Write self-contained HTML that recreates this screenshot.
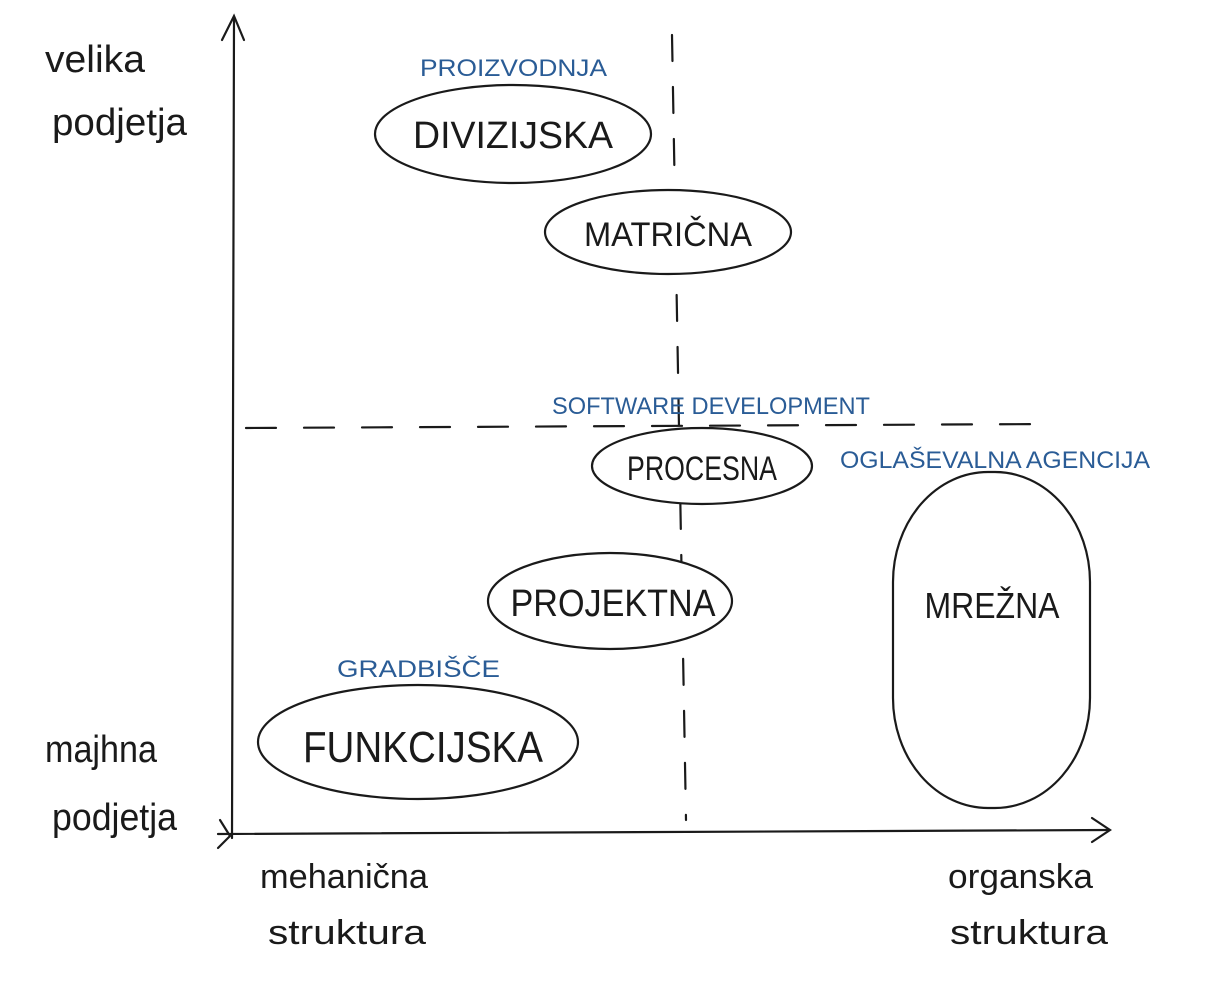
<!DOCTYPE html>
<html><head><meta charset="utf-8"><style>
html,body{margin:0;padding:0;background:#fff;}
svg{display:block;}
text{font-family:"Liberation Sans",sans-serif;}
.b{fill:#1a1a1a;}
.bl{fill:#2a5c96;}
</style></head><body>
<svg width="1215" height="995" viewBox="0 0 1215 995" xmlns="http://www.w3.org/2000/svg">
<g fill="none" stroke="#1a1a1a" stroke-width="2.2" stroke-linecap="round">
<path d="M234 18 L232 838"/>
<path d="M222 40 L234 16 L244 40"/>
<path d="M218 834 L1108 830"/>
<path d="M1092 818 L1110 830 L1092 842"/>
<path d="M220 820 L230 836 L218 848"/>
<path d="M672 35 L686 820" stroke-dasharray="26,26"/>
<path d="M246 428 L1050 424" stroke-dasharray="30,28"/>
</g>
<g fill="#fff" stroke="#1a1a1a" stroke-width="2.2">
<ellipse cx="513" cy="134" rx="138" ry="49"/>
<ellipse cx="668" cy="232" rx="123" ry="42"/>
<ellipse cx="702" cy="466" rx="110" ry="38"/>
<ellipse cx="610" cy="601" rx="122" ry="48"/>
<ellipse cx="418" cy="742" rx="160" ry="57"/>
<rect x="893" y="472" width="197" height="336" rx="95" ry="110"/>
</g>
<g font-size="38" class="b">
<text x="513" y="148" text-anchor="middle" textLength="200" lengthAdjust="spacingAndGlyphs">DIVIZIJSKA</text>
<text x="668" y="246" text-anchor="middle" font-size="34" textLength="168" lengthAdjust="spacingAndGlyphs">MATRIČNA</text>
<text x="702" y="480" text-anchor="middle" font-size="34" textLength="150" lengthAdjust="spacingAndGlyphs">PROCESNA</text>
<text x="613" y="616" text-anchor="middle" textLength="205" lengthAdjust="spacingAndGlyphs">PROJEKTNA</text>
<text x="423" y="762" text-anchor="middle" font-size="44" textLength="240" lengthAdjust="spacingAndGlyphs">FUNKCIJSKA</text>
<text x="992" y="618" text-anchor="middle" font-size="36" textLength="135" lengthAdjust="spacingAndGlyphs">MREŽNA</text>
</g>
<g font-size="24" class="bl">
<text x="420" y="76" textLength="187" lengthAdjust="spacingAndGlyphs">PROIZVODNJA</text>
<text x="552" y="414" textLength="318" lengthAdjust="spacingAndGlyphs">SOFTWARE DEVELOPMENT</text>
<text x="840" y="468" textLength="310" lengthAdjust="spacingAndGlyphs">OGLAŠEVALNA AGENCIJA</text>
<text x="337" y="677" textLength="163" lengthAdjust="spacingAndGlyphs">GRADBIŠČE</text>
</g>
<g font-size="38" class="b">
<text x="45" y="72" textLength="100" lengthAdjust="spacingAndGlyphs">velika</text>
<text x="52" y="135" textLength="135" lengthAdjust="spacingAndGlyphs">podjetja</text>
<text x="45" y="762" textLength="112" lengthAdjust="spacingAndGlyphs">majhna</text>
<text x="52" y="830" textLength="125" lengthAdjust="spacingAndGlyphs">podjetja</text>
<text x="260" y="888" font-size="34" textLength="168" lengthAdjust="spacingAndGlyphs">mehanična</text>
<text x="268" y="944" font-size="34" textLength="158" lengthAdjust="spacingAndGlyphs">struktura</text>
<text x="948" y="888" font-size="34" textLength="145" lengthAdjust="spacingAndGlyphs">organska</text>
<text x="950" y="944" font-size="34" textLength="158" lengthAdjust="spacingAndGlyphs">struktura</text>
</g>
</svg>
</body></html>
